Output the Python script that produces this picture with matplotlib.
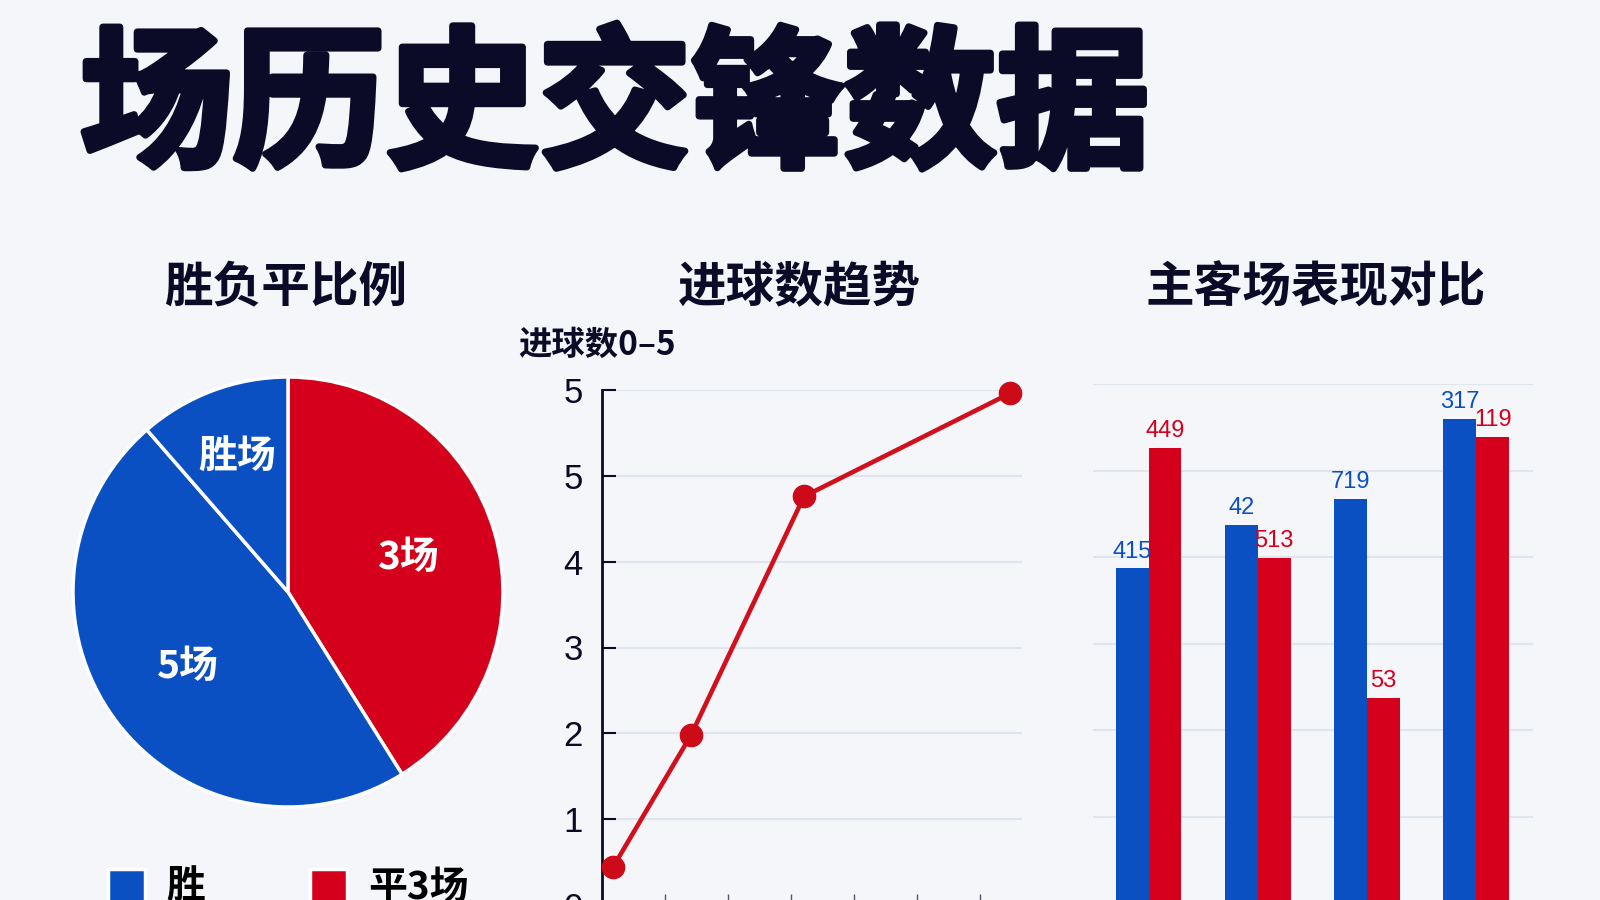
import numpy as np
import matplotlib
matplotlib.use('Agg')
from matplotlib import pyplot as plt
from matplotlib import patheffects as pe

plt.rcParams['font.family'] = ['Noto Sans CJK SC', 'DejaVu Sans']

# ---------------- data ----------------
title = '场历史交锋数据'

pie_title = '胜负平比例'
pie_labels = ['3场', '5场', '胜场']
pie_shares = [41.1, 47.5, 11.4]
legend_labels = ['胜', '平3场']

line_title = '进球数趋势'
line_ylabel = '进球数0–5'
line_x = [0.26, 2.12, 4.81, 9.71]
line_y = [0.44, 1.98, 4.76, 5.96]
line_yticks = [0, 1, 2, 3, 4, 5, 6]
line_yticklabels = ['0', '1', '2', '3', '4', '5', '5']
line_xticks = [1.5, 3.0, 4.5, 6.0, 7.5, 9.0]

bar_title = '主客场表现对比'
bar_home = [3.87, 4.37, 4.67, 5.60]
bar_away = [5.26, 3.99, 2.37, 5.39]
bar_home_labels = ['415', '42', '719', '317']
bar_away_labels = ['449', '513', '53', '119']

BLUE = '#0b50c2'
RED = '#d5001b'
NAVY = '#0b0b28'
GRID = '#dfe5ee'
BG = '#f4f6fa'

W, H = 1600, 900


def box(left, top, right, bottom):
    # pixel box -> figure fraction [l, b, w, h]
    return [left / W, 1 - bottom / H, (right - left) / W, (bottom - top) / H]


fig = plt.figure(figsize=(16, 9), dpi=100, facecolor=BG)

# ---------------- title ----------------
fig.text(80 / W, 1 - 110 / H, title, fontsize=110, fontweight='bold', color=NAVY,
         ha='left', va='center',
         path_effects=[pe.withStroke(linewidth=5, foreground=NAVY)])

fig.text(286 / W, 1 - 288 / H, pie_title, fontsize=35, fontweight='bold', color=NAVY,
         ha='center', va='center')
fig.text(799 / W, 1 - 288 / H, line_title, fontsize=35, fontweight='bold', color=NAVY,
         ha='center', va='center')
fig.text(1316 / W, 1 - 288 / H, bar_title, fontsize=35, fontweight='bold', color=NAVY,
         ha='center', va='center')

# ---------------- pie ----------------
ax1 = fig.add_axes(box(73, 377, 503, 807))
wedges, texts = ax1.pie(pie_shares, labels=pie_labels, colors=[RED, BLUE, BLUE],
                        startangle=90, counterclock=False, labeldistance=0.58,
                        wedgeprops=dict(edgecolor='white', linewidth=2.5),
                        textprops=dict(color='white', fontsize=28, fontweight='bold',
                                       ha='center', va='center'))
x0, y0 = texts[2].get_position()
texts[2].set_position((x0 * 0.67 / 0.58, y0 * 0.67 / 0.58))
ax1.set_xlim(-1, 1)
ax1.set_ylim(-1, 1)
ax1.set_aspect('equal')

fig.legend([wedges[1], wedges[0]], legend_labels, loc='upper left',
           bbox_to_anchor=(108 / W, 1 - 868 / H), ncol=2, frameon=False,
           handlelength=0.95, handleheight=0.95, handletextpad=0.55,
           columnspacing=2.7, borderpad=0, borderaxespad=0,
           prop=dict(weight='bold', size=28))

# ---------------- line ----------------
ax2 = fig.add_axes(box(602, 390, 1022, 905))
ax2.set_facecolor('none')
ax2.plot(line_x, line_y, color='#d20f1c', lw=3.3, marker='o', markersize=16,
         markerfacecolor='#cc0a18', markeredgecolor='#cc0a18', zorder=3, clip_on=False)
ax2.set_xlim(0, 10)
ax2.set_ylim(0, 6)
ax2.set_yticks(line_yticks)
ax2.set_yticklabels(line_yticklabels, family='Liberation Sans')
ax2.set_xticks(line_xticks)
ax2.set_xticklabels([])
ax2.tick_params(axis='y', direction='in', length=10, width=1.5, color=NAVY,
                labelsize=25, labelcolor=NAVY, pad=14)
ax2.tick_params(axis='x', direction='in', length=8, width=1, color='#555566')
ax2.grid(axis='y', color=GRID, lw=1.5)
ax2.set_axisbelow(True)
for s in ['top', 'right']:
    ax2.spines[s].set_visible(False)
ax2.spines['left'].set_color(NAVY)
ax2.spines['left'].set_linewidth(2)
ax2.spines['bottom'].set_color(NAVY)
ax2.spines['bottom'].set_linewidth(2)
fig.text(518 / W, 1 - 345 / H, line_ylabel, fontsize=24, fontweight='bold', color=NAVY,
         ha='left', va='center')

# ---------------- bars ----------------
ax3 = fig.add_axes(box(1093, 384, 1533, 903))
ax3.set_facecolor('none')
xpos = np.arange(len(bar_home))
bw = 0.30
b1 = ax3.bar(xpos - bw / 2, bar_home, width=bw, color=BLUE, zorder=2)
b2 = ax3.bar(xpos + bw / 2, bar_away, width=bw, color=RED, zorder=2)
ax3.bar_label(b1, labels=bar_home_labels, padding=4, color=BLUE, fontsize=17,
              family='Liberation Sans')
ax3.bar_label(b2, labels=bar_away_labels, padding=4, color=RED, fontsize=17,
              family='Liberation Sans')
ax3.set_xlim(-0.51, 3.52)
ax3.set_ylim(0, 6)
ax3.set_yticks(range(7))
ax3.grid(axis='y', color=GRID, lw=1.5)
ax3.set_axisbelow(True)
ax3.tick_params(left=False, bottom=False, labelleft=False, labelbottom=False)
for s in ax3.spines.values():
    s.set_visible(False)

fig.savefig('out.png', dpi=100, facecolor=BG)
